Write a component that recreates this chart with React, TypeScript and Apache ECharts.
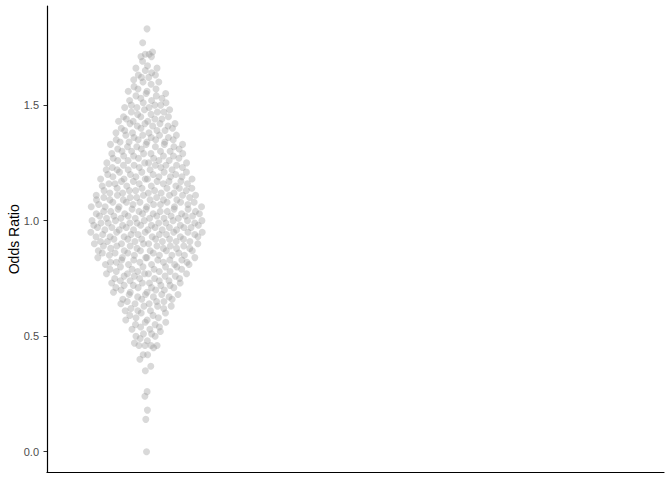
import React, { useEffect, useRef } from "react";
import * as echarts from "echarts";

// Odds ratios
const upperTail = [1.83, 1.77, 1.73, 1.72, 1.72, 1.71, 1.71, 1.69, 1.67, 1.66, 1.66, 1.65,
  1.64, 1.63, 1.63, 1.62, 1.62, 1.61, 1.60, 1.60, 1.59, 1.58, 1.57, 1.57, 1.56, 1.56, 1.55, 1.55];

// body: values from 1.54 down to 0.40 (step 0.01) with the number of points at each
const bodyValues = Array.from({ length: 115 }, (_, i) => +(1.54 - i * 0.01).toFixed(2));
const bodyCounts = [
  2, 2, 2, 2, 3, // 1.54-1.50
  3, 2, 3, 2, 3, // 1.49-1.45
  3, 3, 4, 3, 3, // 1.44-1.40
  3, 3, 4, 3, 4, // 1.39-1.35
  4, 4, 4, 3, 4, // 1.34-1.30
  4, 4, 4, 4, 4, // 1.29-1.25
  5, 4, 5, 4, 4, // 1.24-1.20
  5, 5, 5, 5, 4, // 1.19-1.15
  5, 5, 5, 6, 5, // 1.14-1.10
  6, 6, 5, 6, 5, // 1.09-1.05
  6, 6, 7, 6, 6, // 1.04-1.00
  7, 6, 7, 6, 6, // 0.99-0.95
  6, 6, 6, 6, 5, // 0.94-0.90
  6, 5, 6, 5, 5, // 0.89-0.85
  5, 5, 5, 5, 4, // 0.84-0.80
  4, 4, 5, 4, 4, // 0.79-0.75
  4, 4, 4, 4, 3, // 0.74-0.70
  3, 4, 3, 3, 3, // 0.69-0.65
  3, 3, 2, 3, 2, // 0.64-0.60
  2, 2, 2, 2, 2, // 0.59-0.55
  2, 2, 1, 2, 2, // 0.54-0.50
  1, 1, 1, 4, 1, // 0.49-0.45
  0, 0, 2, 0, 1, // 0.44-0.40
];

const lowerTail = [0.37, 0.35, 0.26, 0.24, 0.18, 0.14, 0.0];

const yTicks = [0, 0.5, 1, 1.5];

// ---- quasirandom (van der Corput) layout, as in ggbeeswarm::geom_quasirandom ----
function vanDerCorput(n: number): number[] {
  const out: number[] = [];
  for (let i = 1; i <= n; i++) {
    let v = 0, denom = 1, k = i;
    while (k > 0) {
      denom *= 2;
      v += (k % 2) / denom;
      k = Math.floor(k / 2);
    }
    out.push(v);
  }
  return out;
}

function buildPoints(center: number, halfWidth: number): number[][] {
  const ys: number[] = [...upperTail];
  bodyValues.forEach((v, i) => {
    for (let c = 0; c < bodyCounts[i]; c++) ys.push(v);
  });
  ys.push(...lowerTail);
  const n = ys.length;
  const sorted = [...ys].sort((a, b) => a - b);
  const mean = ys.reduce((s, v) => s + v, 0) / n;
  const sd = Math.sqrt(ys.reduce((s, v) => s + (v - mean) ** 2, 0) / (n - 1));
  const q = (p: number) => {
    const h = (n - 1) * p;
    const lo = Math.floor(h);
    return sorted[lo] + (h - lo) * ((sorted[lo + 1] ?? sorted[lo]) - sorted[lo]);
  };
  const iqr = q(0.75) - q(0.25);
  const bw = 0.9 * Math.min(sd, iqr / 1.34) * Math.pow(n, -0.2);
  const dens = ys.map((y) => {
    let s = 0;
    for (const v of ys) {
      const z = (y - v) / bw;
      s += Math.exp(-0.5 * z * z);
    }
    return s;
  });
  const maxD = Math.max(...dens);
  const order = ys.map((_, i) => i).sort((a, b) => ys[a] - ys[b] || a - b);
  const vdc = vanDerCorput(n);
  const pts: number[][] = new Array(n);
  order.forEach((idx, rank) => {
    const off = (vdc[rank] - 0.5) * 2 * (dens[idx] / maxD);
    pts[idx] = [center + off * halfWidth, ys[idx]];
  });
  return pts;
}

export default function App() {
  const ref = useRef<HTMLDivElement>(null);
  useEffect(() => {
    if (!ref.current) return;
    const chart = echarts.init(ref.current, null, { renderer: "svg" });
    const points = buildPoints(1, 0.58);
    chart.setOption({
      animation: false,
      backgroundColor: "#ffffff",
      grid: { left: 47, right: 8, top: 6, bottom: 7.5, containLabel: false, outerBoundsMode: "none" },
      xAxis: {
        type: "value",
        position: "bottom",
        min: 0,
        max: 6.2,
        axisLine: { show: true, onZero: false, lineStyle: { color: "#000", width: 1.2 } },
        axisTick: { show: false },
        axisLabel: { show: false },
        splitLine: { show: false },
      },
      yAxis: {
        type: "value",
        position: "left",
        min: -0.09,
        max: 1.929,
        name: "Odds Ratio",
        nameLocation: "middle",
        nameGap: 26,
        nameRotate: 90,
        nameMoveOverlap: false,
        nameTextStyle: { fontFamily: "Liberation Sans", fontSize: 14, color: "#000" },
        axisLine: { show: true, onZero: false, lineStyle: { color: "#000", width: 1.2 } },
        axisTick: {
          show: true,
          length: 3.5,
          customValues: yTicks,
          lineStyle: { color: "#333", width: 1 },
        },
        axisLabel: {
          show: true,
          customValues: yTicks,
          margin: 8,
          fontFamily: "Liberation Sans",
          fontSize: 11,
          color: "#4d4d4d",
          formatter: (v: number) => v.toFixed(1),
        },
        splitLine: { show: false },
      },
      series: [
        {
          type: "scatter",
          data: points,
          symbol: "circle",
          symbolSize: 7,
          itemStyle: { color: "rgba(150,150,150,0.45)" },
          silent: true,
        },
      ],
    });
    return () => chart.dispose();
  }, []);
  return (
    <div
      ref={ref}
      style={{ position: "absolute", left: 0, top: 0, width: 672, height: 480, overflow: "hidden" }}
    />
  );
}
